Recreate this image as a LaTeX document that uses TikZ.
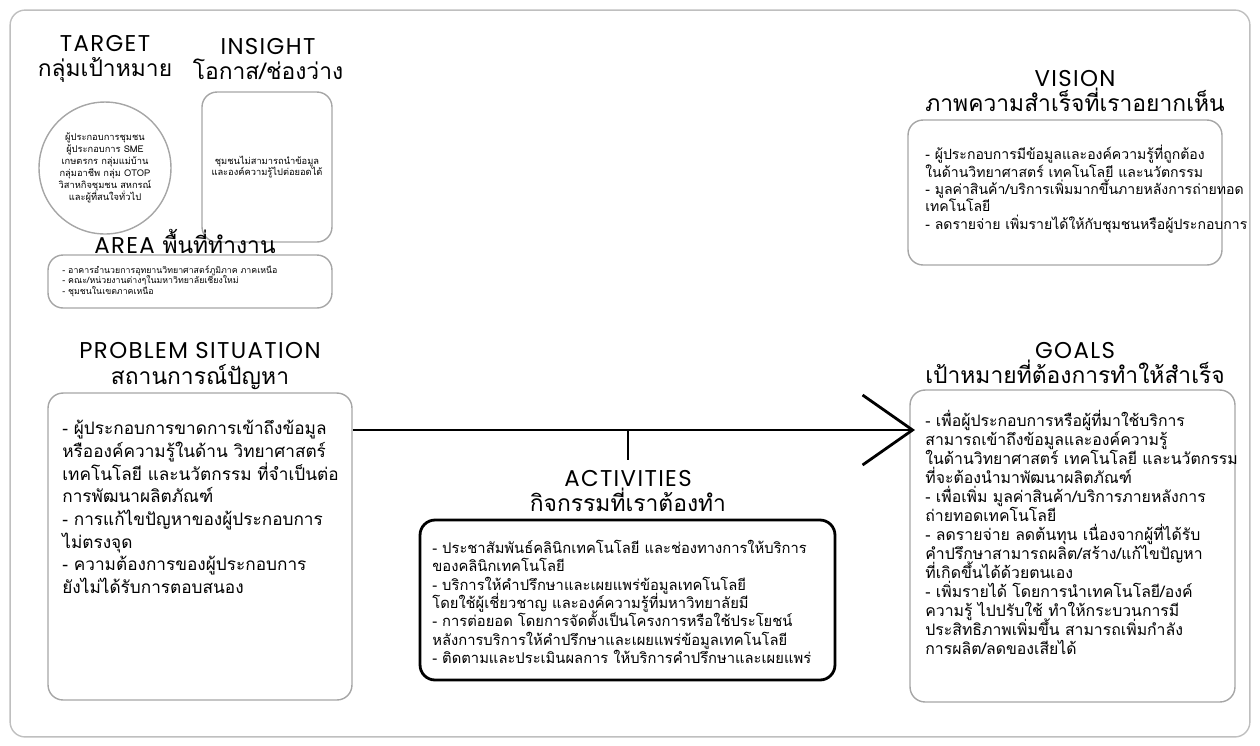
\documentclass[tikz,border=0pt]{standalone}
\usepackage{fontspec}
\setmainfont{Loma}[Script=Thai]
\newfontfamily\headfont{Poppins}[LetterSpace=6]
\usepackage{tikz}
\usetikzlibrary{arrows.meta}
\lineskiplimit=-100pt
\tikzset{
    panel/.style={draw=black!35, line width=0.8pt, rounded corners=0.3cm, inner sep=0pt},
    heading/.style={align=center, inner sep=0pt, font=\fontsize{13}{14.5}\selectfont},
    body/.style={align=left, anchor=north west, inner sep=0pt},
    bigarrow/.style={
        draw,
        line width=1.6pt,
        -{Straight Barb[length=1cm,width=1.4cm,line width=1.6pt]}
    }
}

\begin{document}
\begin{tikzpicture}[x=0.02cm,y=-0.02cm]
	\useasboundingbox (0,0) rectangle (1260,745);
	\node[panel, minimum width=24.8cm, minimum height=14.54cm, draw=black!25] at (630,373.5) (frame) {};
	\node[heading] at (105,59) (targetTitle) {{\headfont TARGET}\\กลุ่มเป้าหมาย};
	\node[heading] at (268,59) (insightTitle) {{\headfont INSIGHT}\\โอกาส/ช่องว่าง};
	\node[panel, circle, minimum size=2.64cm, align=center, font=\fontsize{5.3}{6.8}\selectfont] at (105,168) (target)
		{ผู้ประกอบการชุมชน\\ผู้ประกอบการ SME\\เกษตรกร กลุ่มแม่บ้าน\\กลุ่มอาชีพ กลุ่ม OTOP\\วิสาหกิจชุมชน สหกรณ์\\และผู้ที่สนใจทั่วไป};
	\node[panel, minimum width=2.6cm, minimum height=3cm, align=center, font=\fontsize{5.3}{6.8}\selectfont] at (267,167) (insight)
		{ชุมชนไม่สามารถนำข้อมูล\\และองค์ความรู้ไปต่อยอดได้};
	\node[heading] at (185,241) (areaTitle) {{\headfont AREA} พื้นที่ทำงาน};
	\node[panel, minimum width=5.68cm, minimum height=1.06cm] at (190,281.5) (area) {};
	\node[body, font=\fontsize{5}{6.2}\selectfont] at (62,265) (areaText)
		{- อาคารอำนวยการอุทยานวิทยาศาสตร์ภูมิภาค ภาคเหนือ\\- คณะ/หน่วยงานต่างๆในมหาวิทยาลัยเชียงใหม่\\- ชุมชนในเขตภาคเหนือ};
	\node[heading] at (200,366) (problemTitle) {{\headfont PROBLEM SITUATION}\\สถานการณ์ปัญหา};
	\node[panel, minimum width=6.08cm, minimum height=6.14cm] at (200,546.5) (problem) {};
	\node[body, font=\fontsize{9.8}{12.9}\selectfont] at (62,420) (problemText)
		{- ผู้ประกอบการขาดการเข้าถึงข้อมูล\\หรือองค์ความรู้ในด้าน วิทยาศาสตร์\\เทคโนโลยี และนวัตกรรม ที่จำเป็นต่อ\\การพัฒนาผลิตภัณฑ์\\- การแก้ไขปัญหาของผู้ประกอบการ\\ไม่ตรงจุด\\- ความต้องการของผู้ประกอบการ\\ยังไม่ได้รับการตอบสนอง};
	\node[heading] at (628,491) (activitiesTitle) {{\headfont ACTIVITIES}\\กิจกรรมที่เราต้องทำ};
	\node[panel, draw=black, line width=1.6pt, minimum width=8.3cm, minimum height=3.2cm] at (627.5,600) (activities) {};
	\node[body, font=\fontsize{8.4}{10.4}\selectfont] at (432,540) (activitiesText)
		{- ประชาสัมพันธ์คลินิกเทคโนโลยี และช่องทางการให้บริการ\\ของคลินิกเทคโนโลยี\\- บริการให้คำปรึกษาและเผยแพร่ข้อมูลเทคโนโลยี\\โดยใช้ผู้เชี่ยวชาญ และองค์ความรู้ที่มหาวิทยาลัยมี\\- การต่อยอด โดยการจัดตั้งเป็นโครงการหรือใช้ประโยชน์\\หลังการบริการให้คำปรึกษาและเผยแพร่ข้อมูลเทคโนโลยี\\- ติดตามและประเมินผลการ ให้บริการคำปรึกษาและเผยแพร่};
	\node[heading] at (1075,91) (visionTitle) {{\headfont VISION}\\ภาพความสำเร็จที่เราอยากเห็น};
	\node[panel, minimum width=6.28cm, minimum height=2.9cm] at (1065,192.5) (vision) {};
	\node[body, font=\fontsize{8}{9.9}\selectfont] at (925,145) (visionText)
		{- ผู้ประกอบการมีข้อมูลและองค์ความรู้ที่ถูกต้อง\\ในด้านวิทยาศาสตร์ เทคโนโลยี และนวัตกรรม\\- มูลค่าสินค้า/บริการเพิ่มมากขึ้นภายหลังการถ่ายทอด\\เทคโนโลยี\\- ลดรายจ่าย เพิ่มรายได้ให้กับชุมชนหรือผู้ประกอบการ};
	\node[heading] at (1075,363) (goalsTitle) {{\headfont GOALS}\\เป้าหมายที่ต้องการทำให้สำเร็จ};
	\node[panel, minimum width=6.5cm, minimum height=6.24cm] at (1072.5,546) (goals) {};
	\node[body, font=\fontsize{9}{10.8}\selectfont] at (925,410) (goalsText)
		{- เพื่อผู้ประกอบการหรือผู้ที่มาใช้บริการ\\สามารถเข้าถึงข้อมูลและองค์ความรู้\\ในด้านวิทยาศาสตร์ เทคโนโลยี และนวัตกรรม\\ที่จะต้องนำมาพัฒนาผลิตภัณฑ์\\- เพื่อเพิ่ม มูลค่าสินค้า/บริการภายหลังการ\\ถ่ายทอดเทคโนโลยี\\- ลดรายจ่าย ลดต้นทุน เนื่องจากผู้ที่ได้รับ\\คำปรึกษาสามารถผลิต/สร้าง/แก้ไขปัญหา\\ที่เกิดขึ้นได้ด้วยตนเอง\\- เพิ่มรายได้ โดยการนำเทคโนโลยี/องค์\\ความรู้ ไปปรับใช้ ทำให้กระบวนการมี\\ประสิทธิภาพเพิ่มขึ้น สามารถเพิ่มกำลัง\\การผลิต/ลดของเสียได้};
	\coordinate (arrowEnd) at (915,430);
	\draw[bigarrow] (problem.east |- arrowEnd) -- (arrowEnd);
	\draw[line width=1.6pt] (activitiesTitle.north |- arrowEnd) -- ++(0,30);
\end{tikzpicture}
\end{document}
